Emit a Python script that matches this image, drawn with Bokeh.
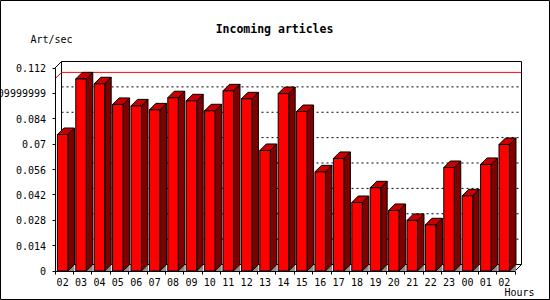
from bokeh.plotting import figure
from bokeh.models import Range1d, LinearAxis, FixedTicker, Label
from bokeh.embed import file_html
from bokeh.resources import INLINE

# ---- data ----
hours = ["02", "03", "04", "05", "06", "07", "08", "09", "10", "11", "12", "13",
         "14", "15", "16", "17", "18", "19", "20", "21", "22", "23", "00", "01", "02"]
values = [0.0753, 0.1060, 0.1033, 0.0919, 0.0911, 0.0889, 0.0956, 0.0939, 0.0884,
          0.0994, 0.0950, 0.0665, 0.0979, 0.0880, 0.0547, 0.0621, 0.0378, 0.0459,
          0.0334, 0.0279, 0.0255, 0.0571, 0.0415, 0.0588, 0.0698]
y_ticks = [0, 0.014, 0.028, 0.042, 0.056, 0.07, 0.084, 0.098, 0.112]
y_tick_labels = ["0", "0.014", "0.028", "0.042", "0.056", "0.07", "0.084",
                 "0.09999999", "0.112"]
title_text = "Incoming articles"
y_title = "Art/sec"
x_title = "Hours"

# ---- layout constants (pixels) ----
W, H = 550, 300
X0_PX = 54.5      # pixel column of x = 0
SLOT_PX = 18.4    # pixels per category slot
Y0_PX = 270.5     # pixel row (from top) of y = 0
K = 1812.5        # pixels per unit of value
DEPTH = 6.5       # 3D depth in pixels
FONT = "DejaVu Sans Mono"

n = len(values)
ymax = y_ticks[-1]
dx = DEPTH / SLOT_PX
dy = DEPTH / K

p = figure(width=W, height=H, output_backend="svg", toolbar_location=None,
           x_range=Range1d(-X0_PX / SLOT_PX, (W - X0_PX) / SLOT_PX),
           y_range=Range1d(-(H - Y0_PX) / K, Y0_PX / K),
           x_axis_location=None, y_axis_location=None, title=None,
           min_border=0)
p.background_fill_color = "white"
p.border_fill_color = "white"
p.outline_line_color = "black"
p.outline_line_width = 1
p.xgrid.visible = False
p.ygrid.visible = False

# back wall
p.quad(left=dx, right=n + dx, bottom=dy, top=ymax + dy,
       fill_color="white", line_color="black", line_width=1)
# dotted grid on the back wall
inner = y_ticks[1:-1]
p.segment(x0=[dx] * len(inner), x1=[n + dx] * len(inner),
          y0=[t + dy for t in inner], y1=[t + dy for t in inner],
          line_color="black", line_dash="2 3", line_width=1)
# box edges
p.segment(x0=[0, n], y0=[ymax, 0], x1=[dx, n + dx], y1=[ymax + dy, dy],
          line_color="black", line_width=1)
# max line
m = max(values)
p.line(x=[0, dx, n + dx], y=[m, m + dy, m + dy], line_color="#ff0000", line_width=1)

# bars
lefts = [i + 0.13 for i in range(n)]
rights = [i + 0.70 for i in range(n)]
p.patches(xs=[[r, r + dx, r + dx] for r in rights],
          ys=[[0, dy, 0] for _ in rights],
          fill_color="#8c8c8c", line_color=None)
p.patches(xs=[[r, r, r + dx, r + dx] for r in rights],
          ys=[[0, v, v + dy, dy] for v in values],
          fill_color="#800000", line_color="black", line_width=1)
p.patches(xs=[[l, l + dx, r + dx, r] for l, r in zip(lefts, rights)],
          ys=[[v, v + dy, v + dy, v] for v in values],
          fill_color="#c80000", line_color="black", line_width=1)
p.quad(left=lefts, right=rights, bottom=0, top=values,
       fill_color="#ff0000", line_color="black", line_width=1)

# axes
yax = LinearAxis(fixed_location=0, bounds=(0, ymax),
                 ticker=FixedTicker(ticks=y_ticks),
                 major_label_overrides=dict(zip(y_ticks, y_tick_labels)),
                 major_tick_in=0, major_tick_out=3,
                 minor_tick_line_color=None,
                 axis_line_color="black", major_tick_line_color="black",
                 major_label_text_font=FONT, major_label_text_font_size="10px",
                 major_label_text_color="black", major_label_standoff=6)
p.add_layout(yax, "left")

label_pos = [(l + r) / 2 for l, r in zip(lefts, rights)]
xax = LinearAxis(fixed_location=0, bounds=(0, n),
                 ticker=FixedTicker(ticks=label_pos, minor_ticks=list(range(n + 1))),
                 major_label_overrides=dict(zip(label_pos, hours)),
                 major_tick_line_color=None,
                 minor_tick_in=0, minor_tick_out=3, minor_tick_line_color="black",
                 axis_line_color="black",
                 major_label_text_font=FONT, major_label_text_font_size="10px",
                 major_label_text_color="black", major_label_standoff=1)
p.add_layout(xax, "below")

# texts
p.add_layout(Label(x=274, y=H - 28, x_units="screen", y_units="screen",
                   text=title_text, text_align="center", text_baseline="alphabetic",
                   text_font=FONT, text_font_style="bold", text_font_size="11.5px",
                   text_color="black"))
p.add_layout(Label(x=30, y=H - 38.5, x_units="screen", y_units="screen",
                   text=y_title, text_align="left", text_baseline="alphabetic",
                   text_font=FONT, text_font_size="10px", text_color="black"))
p.add_layout(Label(x=504, y=H - 292, x_units="screen", y_units="screen",
                   text=x_title, text_align="left", text_baseline="alphabetic",
                   text_font=FONT, text_font_size="10px", text_color="black"))

open("out.html", "w").write(file_html(p, INLINE))
